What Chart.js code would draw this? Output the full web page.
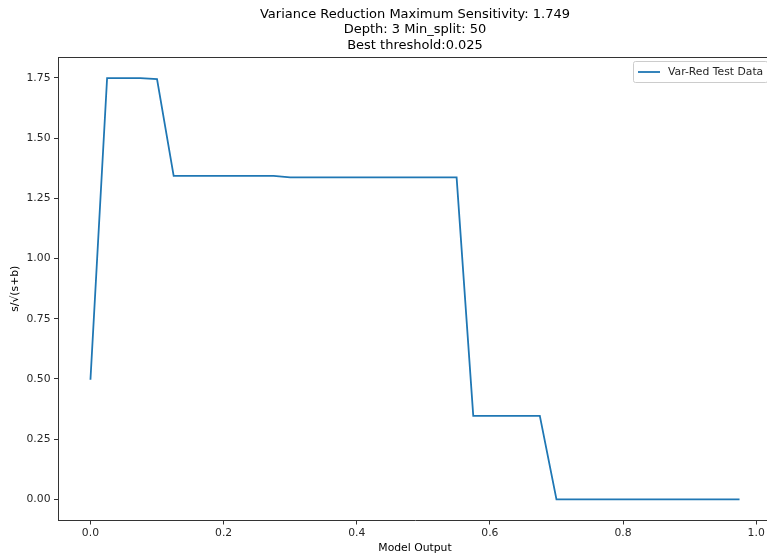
<!DOCTYPE html>
<html><head><meta charset="utf-8">
<script src="https://cdn.jsdelivr.net/npm/chart.js@4/dist/chart.umd.min.js"></script>
<style>
html,body{margin:0;padding:0;background:#fff;overflow:hidden}
#wrap{width:767px;height:560px;overflow:hidden;position:relative;background:#fff}
#box{width:780px;height:560px;position:absolute;left:0;top:0}
</style>
</head><body>
<div id="wrap"><div id="box"><canvas id="c"></canvas></div></div>
<script>
const titleLines = ["Variance Reduction Maximum Sensitivity: 1.749", "Depth: 3 Min_split: 50", "Best threshold:0.025"];
const seriesLabel = "Var-Red Test Data";
const xLabel = "Model Output";
const yLabel = "s/\u221A(s+b)";
const xValues = [0,0.025,0.05,0.075,0.1,0.125,0.15,0.175,0.2,0.225,0.25,0.275,0.3,0.325,0.35,0.375,0.4,0.425,0.45,0.475,0.5,0.525,0.55,0.575,0.6,0.625,0.65,0.675,0.7,0.725,0.75,0.775,0.8,0.825,0.85,0.875,0.9,0.925,0.95,0.975];
const sensitivity = [0.497,1.749,1.749,1.749,1.745,1.343,1.343,1.343,1.343,1.343,1.343,1.343,1.337,1.337,1.337,1.337,1.337,1.337,1.337,1.337,1.337,1.337,1.337,0.347,0.347,0.347,0.347,0.347,0,0,0,0,0,0,0,0,0,0,0,0];
const xTicks = [0,0.2,0.4,0.6,0.8,1.0];
const yTicks = [0,0.25,0.5,0.75,1.0,1.25,1.5,1.75];

const FONT = "'DejaVu Sans', sans-serif";
const TXT = '#262626';
const xMin = Math.min(...xValues), xMax = Math.max(...xValues);
const yMin = Math.min(...sensitivity), yMax = Math.max(...sensitivity);
const xm = (xMax - xMin) * 0.05, ym = (yMax - yMin) * 0.05;

const extras = {
  id: 'extras',
  afterDraw(chart) {
    const ctx = chart.ctx, a = chart.chartArea;
    ctx.save();
    // top spine
    ctx.strokeStyle = '#333'; ctx.lineWidth = 1;
    ctx.beginPath(); ctx.moveTo(a.left, a.top + 0.5); ctx.lineTo(a.right, a.top + 0.5); ctx.stroke();
    ctx.beginPath(); ctx.moveTo(a.right - 0.5, a.top); ctx.lineTo(a.right - 0.5, a.bottom); ctx.stroke();
    // title
    ctx.fillStyle = '#000'; ctx.font = '13px ' + FONT; ctx.textAlign = 'center'; ctx.textBaseline = 'middle';
    const cx = (a.left + a.right) / 2;
    titleLines.forEach((t, i) => ctx.fillText(t, cx, 14.5 + i * 15.5));
    // legend
    ctx.font = '10.8px ' + FONT;
    const tx = 668, ty = 72;
    const tw = ctx.measureText(seriesLabel).width;
    const bx = 633.5, by = 61.5, bw = (tx + tw + 4.5) - bx, bh = 21;
    ctx.fillStyle = 'rgba(255,255,255,0.8)'; ctx.strokeStyle = '#cccccc';
    ctx.beginPath(); ctx.roundRect(bx, by, bw, bh, 2); ctx.fill(); ctx.stroke();
    ctx.strokeStyle = '#1f77b4'; ctx.lineWidth = 1.8;
    ctx.beginPath(); ctx.moveTo(638, ty); ctx.lineTo(660, ty); ctx.stroke();
    ctx.fillStyle = TXT; ctx.textAlign = 'left';
    ctx.fillText(seriesLabel, tx, ty);
    ctx.restore();
  }
};

new Chart(document.getElementById('c'), {
  type: 'line',
  data: {
    datasets: [{
      label: seriesLabel,
      data: xValues.map((x, i) => ({x: x, y: sensitivity[i]})),
      borderColor: '#1f77b4', backgroundColor: '#1f77b4',
      borderWidth: 1.8, pointRadius: 0, tension: 0, fill: false
    }]
  },
  options: {
    responsive: true, maintainAspectRatio: false, animation: false,
    layout: {padding: {top: 57, right: 8, left: 0, bottom: 0}},
    plugins: {legend: {display: false}, title: {display: false}, tooltip: {enabled: false}},
    scales: {
      x: {
        type: 'linear', min: xMin - xm, max: xMax + xm,
        afterBuildTicks: s => { s.ticks = xTicks.map(v => ({value: v})); },
        afterFit: s => { s.height = 39.5; },
        grid: {display: true, drawOnChartArea: false, drawTicks: true, tickLength: 4, color: '#333'},
        border: {display: true, color: '#333', width: 1},
        ticks: {color: TXT, font: {family: FONT, size: 10.8}, padding: 2.5, maxRotation: 0, autoSkip: false,
                callback: v => Number(v).toFixed(1)},
        title: {display: true, text: xLabel, color: '#000', font: {family: FONT, size: 10.8}, padding: {top: 0, bottom: 5.5}}
      },
      y: {
        type: 'linear', min: yMin - ym, max: yMax + ym,
        afterBuildTicks: s => { s.ticks = yTicks.map(v => ({value: v})); },
        afterFit: s => { s.width = 58; },
        grid: {display: true, drawOnChartArea: false, drawTicks: true, tickLength: 4, color: '#333'},
        border: {display: true, color: '#333', width: 1},
        ticks: {color: TXT, font: {family: FONT, size: 10.8}, padding: 3.5, autoSkip: false,
                callback: v => Number(v).toFixed(2)},
        title: {display: true, text: yLabel, color: '#000', font: {family: FONT, size: 10.8}, padding: {top: 8.5, bottom: 0}}
      }
    }
  },
  plugins: [extras]
});
</script>
</body></html>
